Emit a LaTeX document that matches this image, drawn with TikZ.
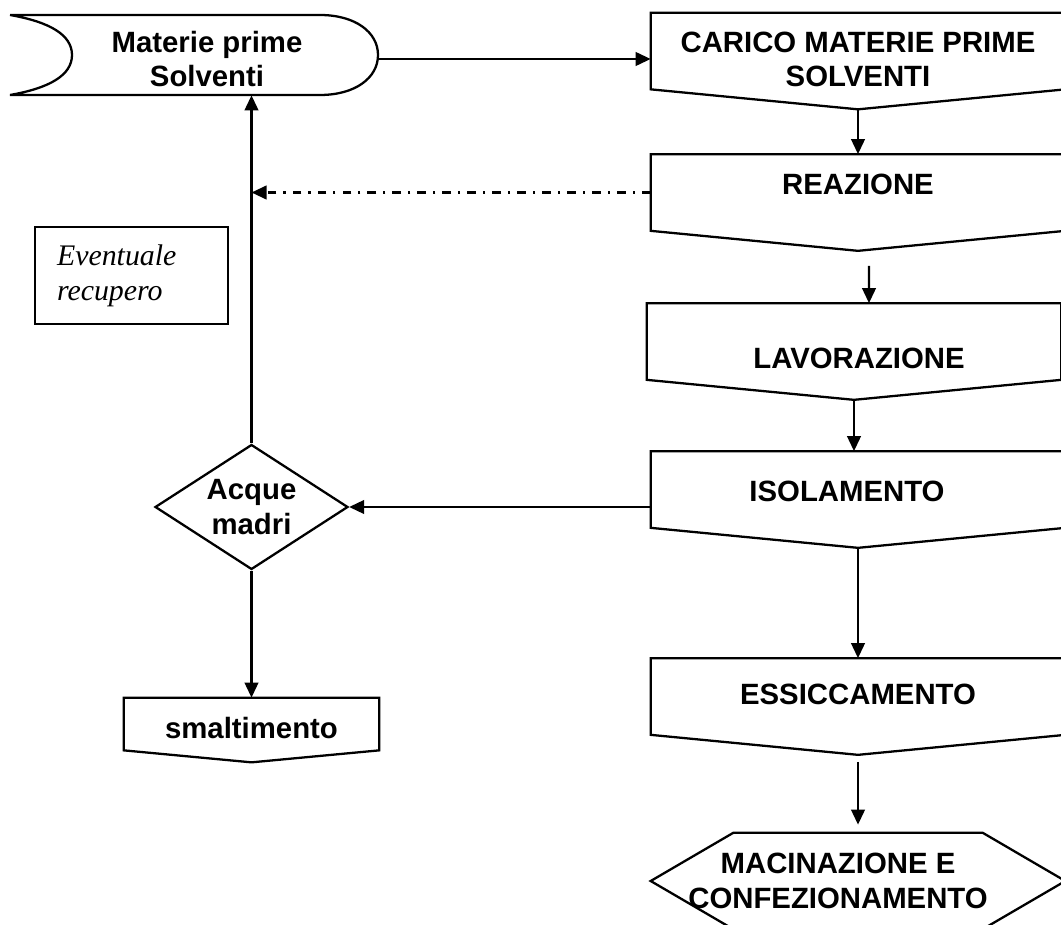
\documentclass[tikz,border=0pt]{standalone}
\usepackage{fontspec}
\setmainfont{Liberation Sans}
\newfontfamily\timesfont{Liberation Serif}
\usetikzlibrary{arrows.meta,shapes.geometric}

\begin{document}
\begin{tikzpicture}[x=0.02cm, y=-0.02cm,
  lbl/.style={font=\bfseries\fontsize{16.7}{19.5}\selectfont, align=center, inner sep=0pt},
  shp/.style={line width=1.3pt},
  vbox/.style={lbl, minimum width=8.28cm, minimum height=1.52cm,
    append after command={\pgfextra{\draw[shp] (\tikzlastnode.north west) -- (\tikzlastnode.north east)
      -- (\tikzlastnode.south east) -- ([yshift=-#1]\tikzlastnode.south) -- (\tikzlastnode.south west) -- cycle;}}},
  vbox/.default=0.4cm,
  hexbox/.style={lbl, minimum width=8.28cm, minimum height=1.92cm,
    append after command={\pgfextra{\draw[shp] (\tikzlastnode.west) -- ([xshift=-2.49cm]\tikzlastnode.north)
      -- ([xshift=2.49cm]\tikzlastnode.north) -- (\tikzlastnode.east) -- ([xshift=2.49cm]\tikzlastnode.south)
      -- ([xshift=-2.49cm]\tikzlastnode.south) -- cycle;}}},
  arr/.style={-{Triangle[length=0.3cm,width=0.27cm]}, line width=1.4pt},
  dashdot/.style={dash pattern=on 5pt off 4pt on 1.2pt off 4pt}]
  \useasboundingbox (0,0) rectangle (1061,925);
  % stored materials
  \draw[shp] (10,15) -- (320,15) .. controls (355,15) and (378,32) .. (378,55)
    .. controls (378,78) and (355,95) .. (320,95) -- (10,95)
    .. controls (50,88) and (72,75) .. (72,55) .. controls (72,35) and (50,22) .. (10,15);
  \node[lbl, minimum width=6.84cm, minimum height=1.44cm] (matp) at (207,59) {Materie prime\\Solventi};
  % process chain
  \node[vbox, text height=1.44cm, text depth=0cm] (carico) at (858,51) {CARICO MATERIE PRIME\\SOLVENTI};
  \node[vbox, text height=0.42cm, text depth=0.32cm] (reaz) at (858,192.5) {REAZIONE};
  \node[vbox, text height=1.08cm, text depth=0cm] (lav) at (854,341.5) {\hspace*{0.2cm}LAVORAZIONE};
  \node[vbox, text height=0.48cm, text depth=0cm] (isol) at (858,489.5) {ISOLAMENTO\hspace*{0.44cm}};
  \node[vbox, text height=0.42cm, text depth=0.1cm] (ess) at (858,696.5) {ESSICCAMENTO};
  \node[hexbox] (mac) at (858,881) {MACINAZIONE E\hspace*{0.8cm}\\CONFEZIONAMENTO\hspace*{0.8cm}};
  % mother liquors
  \node[lbl, diamond, draw, shp, aspect=1.55, minimum width=3.86cm, minimum height=2.5cm] (acque) at (251.5,507) {Acque\\madri};
  \node[vbox=0.24cm, minimum width=5.1cm, minimum height=1.04cm, text height=0.56cm, text depth=0cm] (smalt) at (251.5,724) {smaltimento};
  \node[draw, shp, font=\timesfont\itshape\fontsize{17}{20}\selectfont, minimum width=3.86cm, minimum height=1.94cm,
    inner xsep=0.44cm, text width=2.98cm, align=left] (recup) at (131.5,275.5) {Eventuale\\recupero};
  \draw[arr] (matp.east) -- (matp.east -| carico.west);
  \draw[arr] ([yshift=-0.4cm]carico.south) -- (reaz.north);
  \draw[arr] ([xshift=0.22cm,yshift=-0.7cm]reaz.south) -- ([xshift=0.3cm]lav.north);
  \draw[arr] ([yshift=-0.4cm]lav.south) -- (lav.south |- isol.north);
  \draw[arr] ([yshift=-0.4cm]isol.south) -- (ess.north);
  \draw[arr] ([yshift=-0.54cm]ess.south) -- ([yshift=0.16cm]mac.north);
  \draw[arr] (isol.west |- acque.east) -- (acque.east);
  \draw[arr] (acque.south) -- (smalt.north);
  \draw[arr] (acque.north) -- (acque.north |- matp.south);
  \draw[arr, dashdot] (reaz.west) -- (reaz.west -| acque.north);
\end{tikzpicture}
\end{document}
